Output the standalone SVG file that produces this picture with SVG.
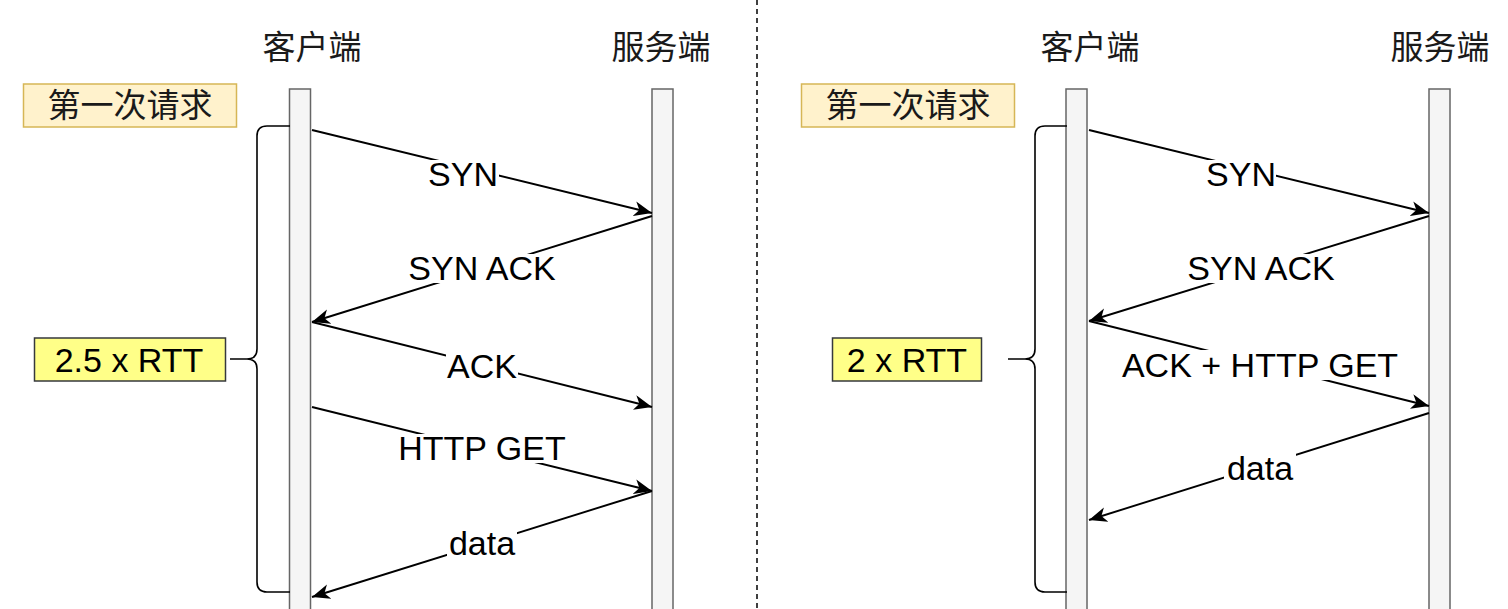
<svg xmlns="http://www.w3.org/2000/svg" width="1508" height="609" viewBox="0 0 1508 609">
<defs>
<style>
.bg{fill:#ffffff}
.life{fill:#f5f5f5;stroke:#666666;stroke-width:1.5}
.req{fill:#fff2cc;stroke:#d6b656;stroke-width:1.5}
.rtt{fill:#ffff88;stroke:#36393d;stroke-width:1.5}
.brace{fill:none;stroke:#000000;stroke-width:1.6}
.edge{fill:none;stroke:#000000;stroke-width:1.9;marker-end:url(#arr)}
.lblbg{fill:#ffffff}
.cjk{font-family:"Noto Sans CJK SC",sans-serif;font-size:33px;fill:#1a1a1a;text-anchor:middle}
.lbl{font-family:"Liberation Sans",Arial,sans-serif;font-size:34px;fill:#000000;text-anchor:middle}
</style>
<marker id="arr" markerUnits="userSpaceOnUse" markerWidth="20" markerHeight="16" refX="18" refY="7.5" orient="auto">
<path d="M0,0 L18,7.5 L0,15 L5,7.5 Z" fill="#000000"/>
</marker>
</defs>
<rect class="bg" x="0" y="0" width="1508" height="609"/>
<line x1="757" y1="0" x2="757" y2="609" stroke="#000000" stroke-width="1.5" stroke-dasharray="5 4"/>

<!-- Left panel -->
<g id="left-client-title"><text class="cjk" x="312" y="59">客户端</text></g>
<g id="left-server-title"><text class="cjk" x="661" y="59">服务端</text></g>
<g id="left-client"><rect class="life" x="289.5" y="89" width="21" height="530"/></g>
<g id="left-server"><rect class="life" x="652" y="89" width="21" height="530"/></g>
<g id="left-req"><rect class="req" x="23.5" y="84" width="213" height="43"/><text class="cjk" x="130" y="117">第一次请求</text></g>
<g id="left-rtt"><rect class="rtt" x="34.5" y="338" width="191" height="43"/><text class="lbl" x="129" y="372">2.5 x RTT</text></g>
<g id="left-brace"><path class="brace" d="M290,126 L267,126 Q257,126 257,136 L257,349 Q257,359 247,359 Q257,359 257,369 L257,582 Q257,592 267,592 L290,592 M230,359 L247,359"/></g>

<!-- Right panel -->
<g id="right-client-title"><text class="cjk" x="1090" y="59">客户端</text></g>
<g id="right-server-title"><text class="cjk" x="1440" y="59">服务端</text></g>
<g id="right-client"><rect class="life" x="1066" y="89" width="21" height="530"/></g>
<g id="right-server"><rect class="life" x="1429" y="89" width="21" height="530"/></g>
<g id="right-req"><rect class="req" x="801.5" y="84" width="213" height="43"/><text class="cjk" x="908" y="117">第一次请求</text></g>
<g id="right-rtt"><rect class="rtt" x="832.5" y="338" width="149" height="43"/><text class="lbl" x="907" y="372">2 x RTT</text></g>
<g id="right-brace"><path class="brace" d="M1067,126 L1045,126 Q1035,126 1035,136 L1035,349 Q1035,359 1025,359 Q1035,359 1035,369 L1035,582 Q1035,592 1045,592 L1067,592 M1008,359 L1025,359"/></g>

<g id="connectors">
<!-- left -->
<line class="edge" x1="312" y1="130" x2="652" y2="213"/>
<line class="edge" x1="652" y1="216" x2="312" y2="322"/>
<line class="edge" x1="312" y1="322" x2="652" y2="407"/>
<line class="edge" x1="312" y1="407" x2="652" y2="491"/>
<line class="edge" x1="652" y1="491" x2="312" y2="597"/>
<!-- right -->
<line class="edge" x1="1089" y1="130" x2="1429" y2="213"/>
<line class="edge" x1="1429" y1="216" x2="1089" y2="321"/>
<line class="edge" x1="1089" y1="321" x2="1429" y2="406"/>
<line class="edge" x1="1429" y1="413" x2="1089" y2="520"/>
<!-- labels -->
<rect class="lblbg" x="428" y="160" width="71" height="29"/><text class="lbl" x="463" y="186">SYN</text>
<rect class="lblbg" x="406" y="254" width="152" height="29"/><text class="lbl" x="482" y="280">SYN ACK</text>
<rect class="lblbg" x="446" y="352" width="72" height="29"/><text class="lbl" x="482" y="378">ACK</text>
<rect class="lblbg" x="397" y="434" width="170" height="29"/><text class="lbl" x="482" y="460">HTTP GET</text>
<rect class="lblbg" x="447" y="532" width="70" height="28"/><text class="lbl" x="482" y="555">data</text>
<rect class="lblbg" x="1205" y="160" width="71" height="29"/><text class="lbl" x="1241" y="186">SYN</text>
<rect class="lblbg" x="1185" y="254" width="152" height="29"/><text class="lbl" x="1261" y="280">SYN ACK</text>
<rect class="lblbg" x="1116" y="350" width="288" height="30"/><text class="lbl" x="1260" y="377">ACK + HTTP GET</text>
<rect class="lblbg" x="1224" y="453" width="72" height="29"/><text class="lbl" x="1260" y="480">data</text>
</g>
</svg>
